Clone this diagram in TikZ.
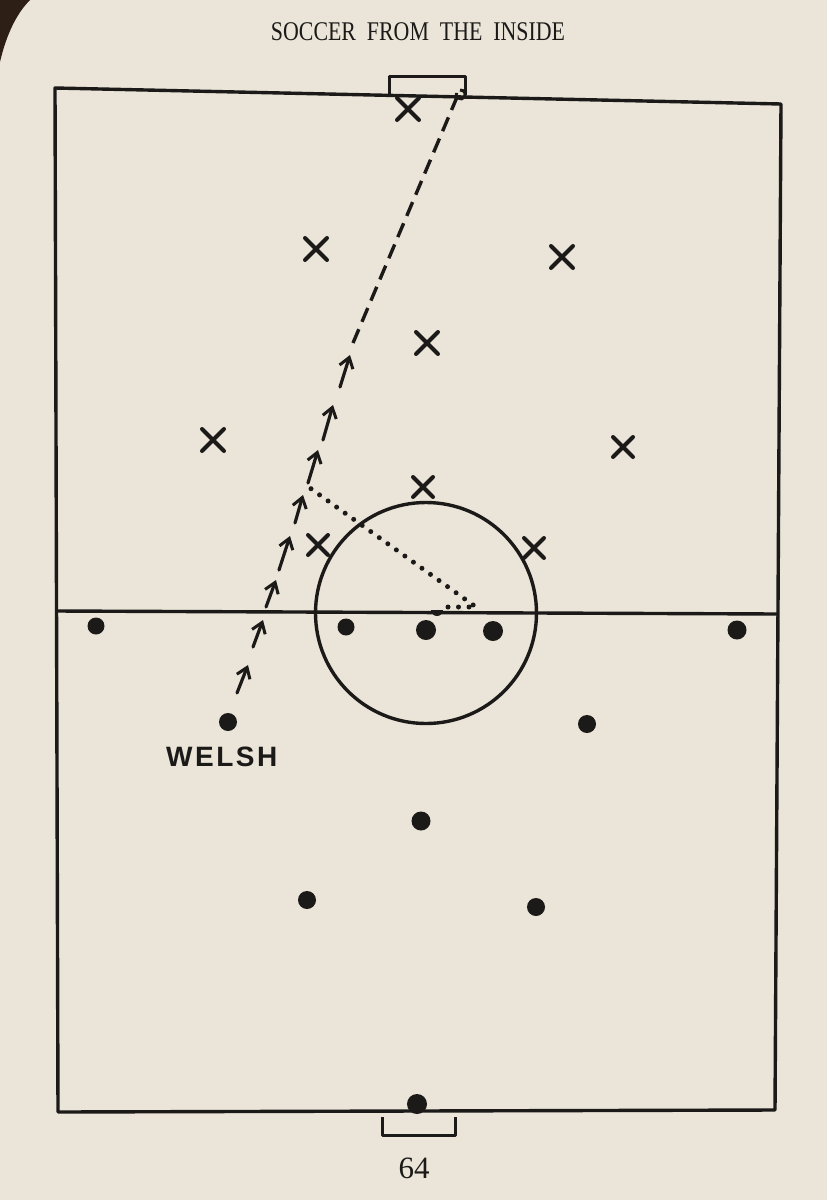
\documentclass[tikz,border=0pt]{standalone}
\usepackage{fontspec}
\setmainfont{Liberation Serif}
\newfontfamily\welshfont[LetterSpace=9]{Liberation Sans}
\usetikzlibrary{arrows.meta,shapes.misc}
\definecolor{paper}{RGB}{234,229,216}
\definecolor{ink}{RGB}{28,26,24}
\definecolor{shadow}{RGB}{45,30,22}
\tikzset{
  pitchline/.style={draw=ink, line width=3.4pt, line join=round},
  opp/.style={cross out, draw=ink, line width=4pt, minimum size=18pt, inner sep=0pt, line cap=round},
  own/.style={circle, fill=ink, inner sep=0pt, minimum size=18pt},
  runarrow/.style={draw=ink, line width=3.2pt, line cap=round, -{Straight Barb[length=10pt,width=14pt,line width=3pt]}},
  rundash/.style={draw=ink, line width=3.4pt, dash pattern=on 15pt off 8pt},
  passdots/.style={draw=ink, line width=5pt, line cap=round, dash pattern=on 0pt off 10.5pt},
}
\begin{document}
\begin{tikzpicture}[x=1pt,y=-1pt]
\useasboundingbox (0,0) rectangle (827,1200);
\fill[paper] (0,0) rectangle (827,1200);
\fill[shadow] (0,0) -- (30,0) .. controls (16,14) and (6,36) .. (0,62) -- cycle;

% headings
\node[text=ink, inner sep=0pt, xscale=0.81] (title) at (418,32) {\fontsize{27}{30}\selectfont SOCCER\ \ FROM\ \ THE\ \ INSIDE};
\node[text=ink, inner sep=0pt] (page) at (414,1168) {\fontsize{31}{34}\selectfont 64};

% pitch
\coordinate (tl) at (55,88);
\coordinate (tr) at (781,104);
\coordinate (br) at (775,1110);
\coordinate (bl) at (58,1112);
\draw[pitchline] (tl) -- (tr) -- (br) -- (bl) -- cycle;
\coordinate (hl) at (56,611);
\coordinate (hr) at (778,614);
\draw[pitchline] (hl) -- (hr);
\coordinate (cc) at (426,613);
\draw[pitchline] (cc) circle (110.5);
% goals
\draw[pitchline, line width=3pt] (389,94) -- (389,76) -- (465,76) -- (465,95);
\draw[pitchline, line width=3pt] (382,1117) -- (382,1135) -- (455,1135) -- (455,1117);

% opponents
\node[opp] (x1) at (408,109) {};
\node[opp] (x2) at (316,249) {};
\node[opp] (x3) at (562,257) {};
\node[opp] (x4) at (427,343) {};
\node[opp] (x5) at (213,440) {};
\node[opp, minimum size=16pt] (x6) at (623,447) {};
\node[opp, minimum size=16pt] (x7) at (423,487) {};
\node[opp, minimum size=16pt] (x8) at (318,545) {};
\node[opp, minimum size=16pt] (x9) at (534,548) {};

% own team
\node[own, minimum size=17pt] (p1) at (96,626) {};
\node[own, minimum size=17pt] (p2) at (346,627) {};
\node[own, minimum size=20pt] (p3) at (426,630) {};
\node[own, minimum size=20pt] (p4) at (493,631) {};
\node[own, minimum size=19pt] (p5) at (737,630) {};
\node[own, minimum size=18pt] (p6) at (228,722) {};
\node[own, minimum size=18pt] (p7) at (587,724) {};
\node[own, minimum size=19pt] (p8) at (421,821) {};
\node[own, minimum size=18pt] (p9) at (307,900) {};
\node[own, minimum size=18pt] (p10) at (536,907) {};
\node[own, minimum size=20pt] (gk) at (417,1104) {};

\node[text=ink, inner sep=0pt, anchor=west] (welsh) at (166,757) {\welshfont\bfseries\fontsize{28}{32}\selectfont WELSH};

% Welsh's run
\coordinate (a1s) at (237,693); \coordinate (a1e) at (248,665);
\coordinate (a2s) at (253,647); \coordinate (a2e) at (263,620);
\coordinate (a3s) at (266,607); \coordinate (a3e) at (276,580);
\coordinate (a4s) at (279,570); \coordinate (a4e) at (290,536);
\coordinate (a5s) at (295,523); \coordinate (a5e) at (303,495);
\coordinate (a6s) at (308,483); \coordinate (a6e) at (318,450);
\coordinate (a7s) at (323,440); \coordinate (a7e) at (333,405);
\coordinate (a8s) at (340,387); \coordinate (a8e) at (350,355);
\draw[runarrow] (a1s) -- (a1e);
\draw[runarrow] (a2s) -- (a2e);
\draw[runarrow] (a3s) -- (a3e);
\draw[runarrow] (a4s) -- (a4e);
\draw[runarrow] (a5s) -- (a5e);
\draw[runarrow] (a6s) -- (a6e);
\draw[runarrow] (a7s) -- (a7e);
\draw[runarrow] (a8s) -- (a8e);
\coordinate (shotstart) at (353,343);
\coordinate (post) at (460,90);
\draw[rundash] (shotstart) -- (post);
\draw[ink, line width=3pt] (post) arc (-100:200:4.5);

% the pass
\coordinate (ball) at (437,607);
\fill[ink] (431,610) arc (180:0:6) -- cycle;
\coordinate (d0) at (448,607);
\coordinate (d1) at (476,607);
\coordinate (d2) at (310,488);
\draw[passdots] (d0) -- (d1) -- (d2);
\end{tikzpicture}
\end{document}
